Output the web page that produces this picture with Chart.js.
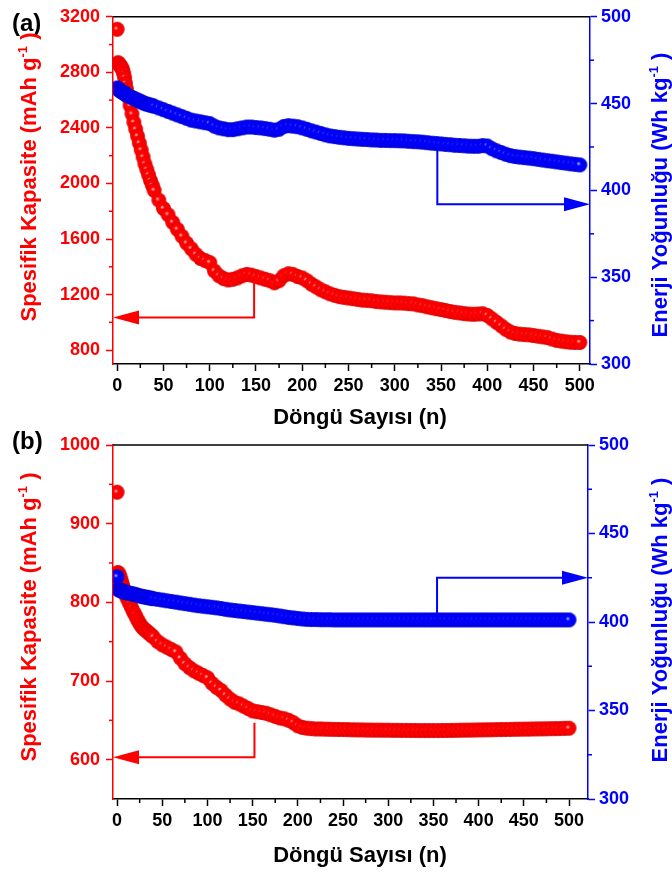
<!DOCTYPE html>
<html>
<head>
<meta charset="utf-8">
<script src="https://cdn.jsdelivr.net/npm/chart.js@4.4.1/dist/chart.umd.min.js"></script>
<style>
  html, body { margin: 0; padding: 0; background: #fff; }
  #wrap { position: relative; width: 672px; height: 877px; }
  #wrap canvas { position: absolute; left: 0; }
</style>
</head>
<body>
<div id="wrap">
  <canvas id="chartA" width="672" height="440" style="top:0"></canvas>
  <canvas id="chartB" width="672" height="457" style="top:420px"></canvas>
</div>
<script>
// cycle numbers shared by both panels
const cycles = [
  0, 1, 2, 3, 4, 5, 6, 7, 8, 9, 10,
  12, 14, 16, 18, 20, 22, 24, 26, 28, 30, 32, 34, 36, 38, 40,
  45, 50, 55, 60, 65, 70, 75, 80, 85, 90, 95, 100,
  105, 110, 115, 120, 125, 130, 135, 140, 145, 150, 155, 160, 165, 170, 175, 180, 185, 190, 195, 200,
  205, 210, 215, 220, 225, 230, 235, 240, 245, 250, 255, 260, 265, 270, 275, 280, 285, 290, 295, 300,
  305, 310, 315, 320, 325, 330, 335, 340, 345, 350, 355, 360, 365, 370, 375, 380, 385, 390, 395, 400,
  405, 410, 415, 420, 425, 430, 435, 440, 445, 450, 455, 460, 465, 470, 475, 480, 485, 490, 495, 500
];

// (a) specific capacity, mAh/g
const capacityA = [
  3110, 2870, 2860, 2850, 2840, 2830, 2815, 2790, 2760, 2720, 2680,
  2620, 2560, 2500, 2440, 2390, 2340, 2290, 2240, 2190, 2140, 2100, 2060, 2020, 1985, 1950,
  1880, 1820, 1775, 1720, 1670, 1620, 1570, 1530, 1490, 1460, 1445, 1430,
  1370, 1335, 1315, 1305, 1310, 1320, 1335, 1345, 1340, 1330, 1320, 1310, 1300, 1285, 1300, 1335, 1350, 1345, 1330, 1320,
  1300, 1275, 1255, 1235, 1220, 1205, 1195, 1185, 1180, 1175, 1170, 1165, 1160, 1158, 1155, 1150, 1147, 1145, 1142, 1140,
  1140, 1138, 1135, 1133, 1125, 1120, 1112, 1105, 1098, 1092, 1085, 1078, 1072, 1068, 1063, 1060, 1058, 1060, 1062, 1050,
  1025, 1000, 975, 950, 930, 920, 915, 912, 910, 905, 900, 895, 890, 880, 870, 865, 860, 857, 855, 855
];

// (a) energy density, Wh/kg
const energyA = [
  459, 458.5, 458, 457.5, 457, 457, 456.5, 456, 456, 455.5, 455,
  454.5, 454, 453.5, 453, 452.5, 452, 451.5, 451, 450.5, 450, 449.7, 449.4, 449.1, 448.8, 448.5,
  447.5, 446.5, 445.5, 444.5, 443.5, 442.5, 441.5, 440.5, 440, 439.5, 439, 438.5,
  437, 436, 435.5, 435, 435, 435.5, 436, 436.5, 436.5, 436.2, 436, 435.6, 435.2, 434.7, 435.2, 436.8, 437.3, 437, 436.7, 436,
  435.2, 434.3, 433.6, 432.8, 432, 431.4, 431, 430.6, 430.3, 430, 429.8, 429.6, 429.4, 429.3, 429.1, 429, 428.8, 428.8, 428.7, 428.7,
  428.6, 428.5, 428.3, 428.1, 428, 427.8, 427.5, 427.2, 427, 426.8, 426.5, 426.3, 426, 425.9, 425.7, 425.5, 425.4, 425.4, 425.8, 425.6,
  424, 422.8, 421.8, 420.8, 420, 419.5, 419.2, 418.9, 418.6, 418.3, 417.9, 417.5, 417.1, 416.8, 416.4, 416, 415.7, 415.3, 415, 414.7
];

// (b) specific capacity, mAh/g
const capacityB = [
  940, 838, 836, 833, 830, 826, 822, 818, 815, 811, 808,
  803, 798, 793, 788, 784, 779, 775, 771, 768, 766, 764, 762, 760, 758, 756,
  750, 746, 743, 740, 737, 729, 722, 717, 713, 710, 707, 704,
  697, 692, 688, 682, 677, 673, 671, 668, 665, 662, 661, 660, 659, 657, 655, 653, 652, 650, 647, 643,
  641, 640, 639.5, 639, 639, 638.8, 638.6, 638.5, 638.4, 638.3, 638.2, 638, 637.9, 637.8, 637.7, 637.6, 637.5, 637.5, 637.4, 637.4,
  637.3, 637.3, 637.2, 637.2, 637.1, 637.1, 637, 637, 637, 637, 637, 637.1, 637.1, 637.2, 637.3, 637.4, 637.5, 637.6, 637.7, 637.8,
  637.9, 638, 638.1, 638.2, 638.3, 638.4, 638.5, 638.6, 638.7, 638.8, 638.9, 639, 639.1, 639.2, 639.3, 639.4, 639.5, 639.6, 639.8, 640
];

// (b) energy density, Wh/kg
const energyB = [
  425.5, 418.5, 418.2, 418, 417.8, 417.6, 417.4, 417.2, 417, 416.8, 416.6,
  416.4, 416.2, 416, 415.8, 415.5, 415.2, 414.9, 414.6, 414.4, 414.2, 414, 413.8, 413.6, 413.4, 413.2,
  412.8, 412.4, 412, 411.6, 411.2, 410.8, 410.4, 410, 409.6, 409.2, 408.9, 408.6,
  408.3, 408, 407.6, 407.2, 406.8, 406.5, 406.2, 405.9, 405.6, 405.3, 405, 404.7, 404.4, 404.1, 403.8, 403.4, 403, 402.6, 402.3, 402,
  401.7, 401.5, 401.4, 401.4, 401.3, 401.3, 401.3, 401.2, 401.2, 401.2, 401.2, 401.2, 401.2, 401.2, 401.2, 401.2, 401.2, 401.2, 401.2, 401.2,
  401.2, 401.2, 401.2, 401.2, 401.2, 401.2, 401.2, 401.2, 401.2, 401.2, 401.2, 401.2, 401.2, 401.2, 401.2, 401.2, 401.2, 401.2, 401.2, 401.2,
  401.2, 401.2, 401.2, 401.2, 401.2, 401.2, 401.2, 401.2, 401.2, 401.2, 401.2, 401.2, 401.2, 401.2, 401.2, 401.2, 401.2, 401.2, 401.2, 401.2
];

// axis ticks
const cycleTicks = [0, 50, 100, 150, 200, 250, 300, 350, 400, 450, 500];
const cycleMinor = [25, 75, 125, 175, 225, 275, 325, 375, 425, 475];
const energyTicks = [300, 350, 400, 450, 500];
const energyMinor = [325, 375, 425, 475];
const capTicksA = [800, 1200, 1600, 2000, 2400, 2800, 3200];
const capMinorA = [1000, 1400, 1800, 2200, 2600, 3000];
const capTicksB = [600, 700, 800, 900, 1000];
const capMinorB = [650, 750, 850, 950];

const RED = '#ff0000';
const BLUE = '#0000ff';
const FAMILY = '"Liberation Sans", Arial, Helvetica, sans-serif';
const tickFont = { family: FAMILY, size: 18, weight: 'bold' };
const plain = v => String(v);

// shaded sphere used as the marker
function sphere(r, light, mid, dark) {
  const c = document.createElement('canvas');
  const s = Math.ceil(2 * r) + 2;
  c.width = c.height = s;
  const g = c.getContext('2d');
  const grd = g.createRadialGradient(s / 2 - 1.5, s / 2 - 1.5, 0, s / 2, s / 2, r);
  grd.addColorStop(0, light);
  grd.addColorStop(0.3, mid);
  grd.addColorStop(0.75, mid);
  grd.addColorStop(1, dark);
  g.fillStyle = grd;
  g.beginPath();
  g.arc(s / 2, s / 2, r, 0, Math.PI * 2);
  g.fill();
  return c;
}
const redBall = sphere(7.4, '#ffd8d8', '#ff0000', '#d80000');
const blueBall = sphere(7.4, '#d8d8ff', '#0000ff', '#0000cc');

function seg(ctx, x1, y1, x2, y2) {
  ctx.beginPath();
  ctx.moveTo(x1, y1);
  ctx.lineTo(x2, y2);
  ctx.stroke();
}

function arrowHead(ctx, tipX, y, dir) {
  ctx.beginPath();
  ctx.moveTo(tipX, y);
  ctx.lineTo(tipX + dir * 26, y - 7);
  ctx.lineTo(tipX + dir * 26, y + 7);
  ctx.closePath();
  ctx.fill();
}

// rotated axis title with a superscript "-1"
function sideTitle(ctx, baseX, cy, main, tail, color) {
  ctx.save();
  ctx.fillStyle = color;
  ctx.textBaseline = 'alphabetic';
  ctx.textAlign = 'left';
  const big = 'bold 22px ' + FAMILY;
  const small = 'bold 13px ' + FAMILY;
  ctx.font = big;
  const w1 = ctx.measureText(main).width;
  const w3 = ctx.measureText(tail).width;
  ctx.font = small;
  const w2 = ctx.measureText('-1').width;
  const total = w1 + w2 + w3;
  ctx.translate(baseX, cy);
  ctx.rotate(-Math.PI / 2);
  let x = -total / 2;
  ctx.font = big;
  ctx.fillText(main, x, 0);
  x += w1;
  ctx.font = small;
  ctx.fillText('-1', x, -9);
  x += w2;
  ctx.font = big;
  ctx.fillText(tail, x, 0);
  ctx.restore();
}

const decorations = {
  id: 'decorations',
  afterDraw(chart, args, o) {
    const { ctx, chartArea: a } = chart;
    const { x, yC, yE } = chart.scales;
    ctx.save();
    ctx.lineWidth = 1.5;

    // top frame edge
    ctx.strokeStyle = '#000';
    seg(ctx, a.left, a.top, a.right, a.top);

    // minor ticks
    cycleMinor.forEach(v => {
      const px = x.getPixelForValue(v);
      seg(ctx, px, a.bottom, px, a.bottom + 4);
    });
    ctx.strokeStyle = RED;
    o.capMinor.forEach(v => {
      const py = yC.getPixelForValue(v);
      seg(ctx, a.left - 4, py, a.left, py);
    });
    ctx.strokeStyle = BLUE;
    energyMinor.forEach(v => {
      const py = yE.getPixelForValue(v);
      seg(ctx, a.right, py, a.right + 4, py);
    });

    // arrows pointing each series to its axis
    ctx.lineWidth = 2;
    const ca = o.capArrow;
    const cx = x.getPixelForValue(ca.at);
    const c1 = yC.getPixelForValue(ca.from);
    const c2 = yC.getPixelForValue(ca.to);
    ctx.strokeStyle = RED;
    ctx.fillStyle = RED;
    ctx.beginPath();
    ctx.moveTo(cx, c1);
    ctx.lineTo(cx, c2);
    ctx.lineTo(a.left + 20, c2);
    ctx.stroke();
    arrowHead(ctx, a.left, c2, 1);

    const ea = o.energyArrow;
    const ex = x.getPixelForValue(ea.at);
    const e1 = yE.getPixelForValue(ea.from);
    const e2 = yE.getPixelForValue(ea.to);
    ctx.strokeStyle = BLUE;
    ctx.fillStyle = BLUE;
    ctx.beginPath();
    ctx.moveTo(ex, e1);
    ctx.lineTo(ex, e2);
    ctx.lineTo(a.right - 20, e2);
    ctx.stroke();
    arrowHead(ctx, a.right, e2, -1);

    // titles
    ctx.fillStyle = '#000';
    ctx.font = 'bold 22px ' + FAMILY;
    ctx.textAlign = 'center';
    ctx.textBaseline = 'alphabetic';
    ctx.fillText('Döngü Sayısı (n)', 360, o.xTitleY);

    ctx.font = 'bold 24px ' + FAMILY;
    ctx.textAlign = 'left';
    ctx.fillText(o.label, 12, o.labelY);

    sideTitle(ctx, 36, o.leftCy, 'Spesifik Kapasite (mAh g', ' )', RED);
    sideTitle(ctx, 667, o.rightCy, 'Enerji Yoğunluğu (Wh kg', ' )', BLUE);
    ctx.restore();
  }
};

function panel(canvas, p) {
  return new Chart(canvas, {
    type: 'scatter',
    data: {
      datasets: [
        {
          label: 'Enerji Yoğunluğu',
          data: cycles.map((c, i) => ({ x: c, y: p.energy[i] })),
          yAxisID: 'yE',
          pointStyle: blueBall,
          pointRadius: 7.4,
          order: 0
        },
        {
          label: 'Spesifik Kapasite',
          data: cycles.map((c, i) => ({ x: c, y: p.capacity[i] })),
          yAxisID: 'yC',
          pointStyle: redBall,
          pointRadius: 7.4,
          order: 1
        }
      ]
    },
    options: {
      responsive: false,
      animation: false,
      events: [],
      layout: { padding: { top: p.top, left: 0, right: 0, bottom: 0 } },
      plugins: {
        legend: { display: false },
        tooltip: { enabled: false },
        decorations: p
      },
      scales: {
        x: {
          type: 'linear',
          min: p.xMin,
          max: p.xMax,
          afterBuildTicks: s => { s.ticks = cycleTicks.map(v => ({ value: v })); },
          afterFit: s => { s.height = p.xHeight; },
          grid: { drawOnChartArea: false, tickLength: 7, tickColor: '#000', tickWidth: 1.5 },
          border: { color: '#000', width: 1.5 },
          ticks: { color: '#000', font: tickFont, padding: 4, maxRotation: 0, autoSkip: false, callback: plain }
        },
        yC: {
          type: 'linear',
          position: 'left',
          min: p.capMin,
          max: p.capMax,
          afterBuildTicks: s => { s.ticks = p.capTicks.map(v => ({ value: v })); },
          afterFit: s => { s.width = 113; },
          grid: { drawOnChartArea: false, tickLength: 7, tickColor: RED, tickWidth: 1.5 },
          border: { color: RED, width: 1.5 },
          ticks: { color: RED, font: tickFont, padding: 6, autoSkip: false, callback: plain }
        },
        yE: {
          type: 'linear',
          position: 'right',
          min: 300,
          max: 500,
          afterBuildTicks: s => { s.ticks = energyTicks.map(v => ({ value: v })); },
          afterFit: s => { s.width = p.rightWidth; },
          grid: { drawOnChartArea: false, tickLength: 7, tickColor: BLUE, tickWidth: 1.5 },
          border: { color: BLUE, width: 1.5 },
          ticks: { color: BLUE, font: tickFont, padding: 4, autoSkip: false, callback: plain }
        }
      }
    },
    plugins: [decorations]
  });
}

panel(document.getElementById('chartA'), {
  capacity: capacityA,
  energy: energyA,
  top: 11,
  xHeight: 76,
  rightWidth: 82,
  xMin: -4.5,
  xMax: 511,
  capMin: 700,
  capMax: 3200,
  capTicks: capTicksA,
  capMinor: capMinorA,
  capArrow: { at: 148, from: 1295, to: 1035 },
  energyArrow: { at: 346, from: 423, to: 392 },
  label: '(a)',
  labelY: 31,
  xTitleY: 424,
  leftCy: 177,
  rightCy: 195
});

panel(document.getElementById('chartB'), {
  capacity: capacityB,
  energy: energyB,
  top: 25,
  xHeight: 78,
  rightWidth: 84,
  xMin: -4.5,
  xMax: 521,
  capMin: 550,
  capMax: 1000,
  capTicks: capTicksB,
  capMinor: capMinorB,
  capArrow: { at: 152, from: 647, to: 603 },
  energyArrow: { at: 354, from: 405, to: 425 },
  label: '(b)',
  labelY: 29,
  xTitleY: 442,
  leftCy: 197,
  rightCy: 200
});
</script>
</body>
</html>
